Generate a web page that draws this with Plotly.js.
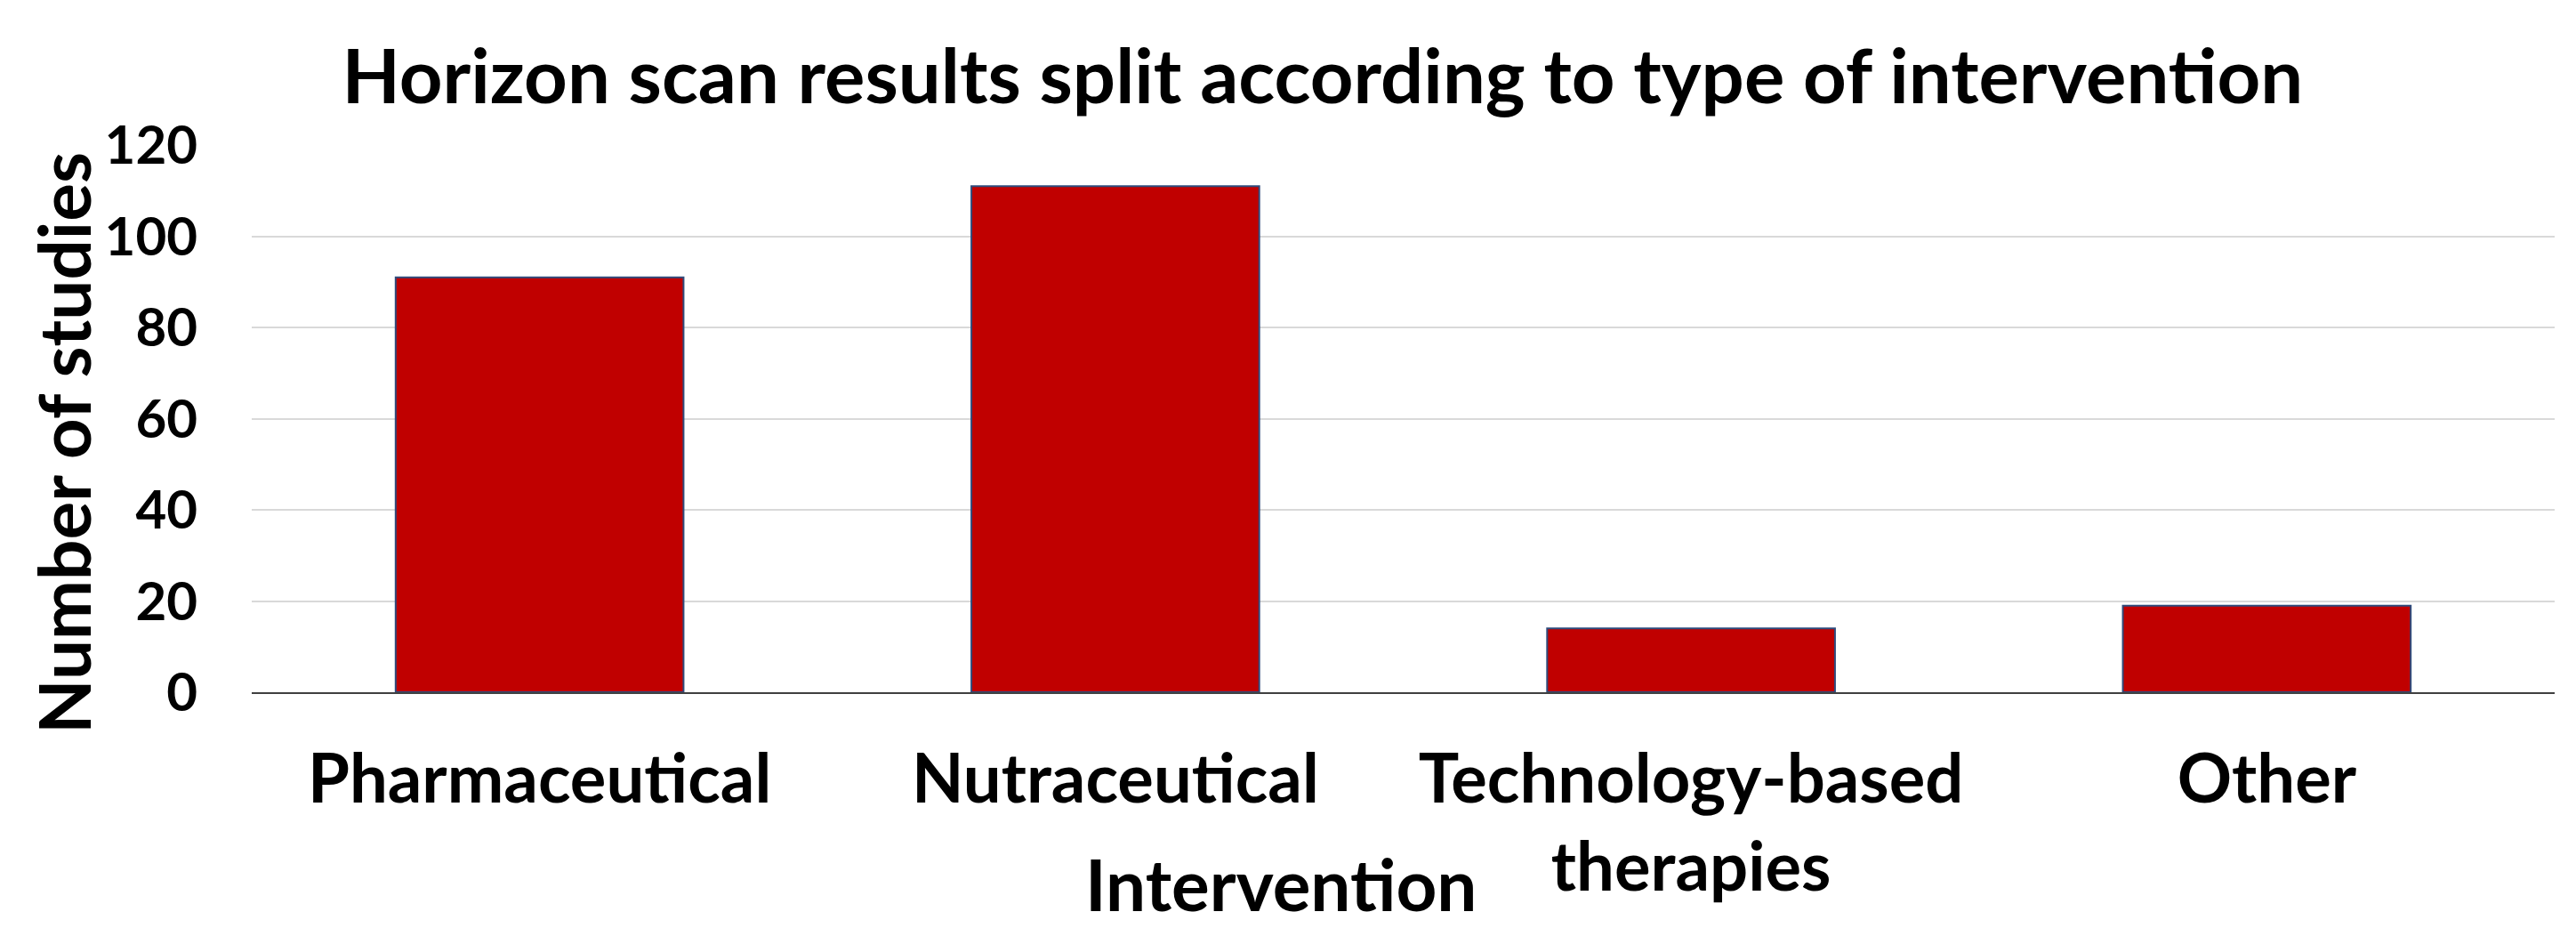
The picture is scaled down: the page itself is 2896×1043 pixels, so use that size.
<!DOCTYPE html>
<html>
<head>
<meta charset="utf-8">
<script src="https://cdn.plot.ly/plotly-3.0.1.min.js"></script>
<style>html,body{margin:0;padding:0;background:#fff;}#chart{width:2896px;height:1043px;}</style>
</head>
<body>
<div id="chart"></div>
<script>
const categories = ["Pharmaceutical", "Nutraceutical", "Technology-based<br>therapies", "Other"];
const studies = [91, 111, 14, 19];
const yTicks = [0, 20, 40, 60, 80, 100, 120];
const titleText = "Horizon scan results split according to type of intervention";
const xTitle = "Intervention";
const yTitle = "Number of studies";

const FONT = "Lato, 'Open Sans', sans-serif";

const trace = {
  type: "bar",
  x: categories,
  y: studies,
  width: 0.5,
  marker: { color: "#C00000", line: { color: "#2F4B7C", width: 2 } },
  hoverinfo: "x+y"
};

const layout = {
  width: 2896,
  height: 1043,
  margin: { l: 283, r: 24, t: 163, b: 265 },
  paper_bgcolor: "#ffffff",
  plot_bgcolor: "#ffffff",
  showlegend: false,
  font: { family: FONT, color: "#000000" },
  title: {
    text: "<b>" + titleText + "</b>",
    font: { family: FONT, size: 85, color: "#000000" },
    x: 0.465, xanchor: "center", xref: "paper",
    y: 0.917, yanchor: "middle", yref: "container"
  },
  xaxis: {
    type: "category",
    tickfont: { family: FONT, size: 76, color: "#000000", weight: "bold" },
    ticks: "outside", ticklen: 31, tickcolor: "rgba(0,0,0,0)",
    showline: true, linecolor: "#404040", linewidth: 2,
    showgrid: false
  },
  yaxis: {
    range: [0, 120],
    tickvals: yTicks,
    ticktext: yTicks.map(String),
    tickfont: { family: FONT, size: 60, color: "#000000", weight: "bold" },
    ticks: "outside", ticklen: 48, tickcolor: "rgba(0,0,0,0)",
    showgrid: true, gridcolor: "#D9D9D9", gridwidth: 2,
    zeroline: false, showline: false
  },
  annotations: [
    {
      text: "<b>" + xTitle + "</b>",
      xref: "paper", yref: "paper",
      x: 0.447, y: -0.35, xanchor: "center", yanchor: "middle",
      showarrow: false, borderpad: 0,
      font: { family: FONT, size: 80, color: "#000000" }
    },
    {
      text: "<b>" + yTitle + "</b>",
      xref: "paper", yref: "paper",
      x: -0.082, y: 0.455, xanchor: "center", yanchor: "middle",
      textangle: -90,
      showarrow: false,
      font: { family: FONT, size: 80, color: "#000000" }
    }
  ]
};

Plotly.newPlot("chart", [trace], layout, { displayModeBar: false, staticPlot: true });
</script>
</body>
</html>
